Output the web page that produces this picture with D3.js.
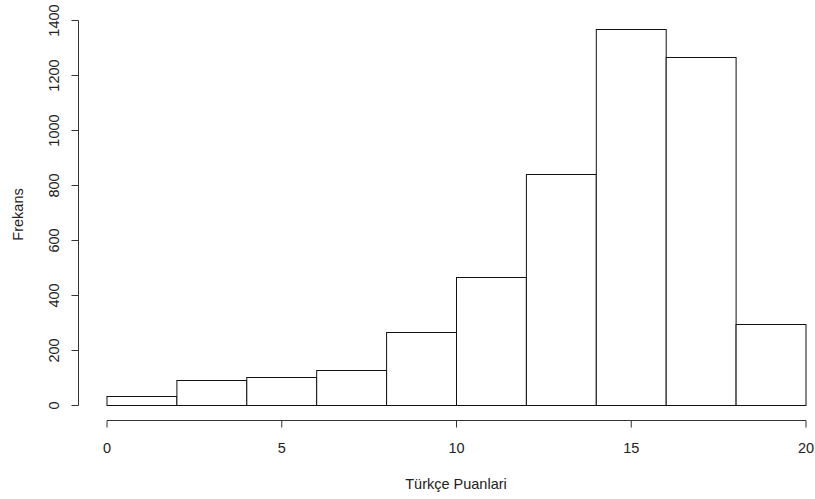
<!DOCTYPE html>
<html>
<head>
<meta charset="utf-8">
<script src="https://cdn.jsdelivr.net/npm/d3@7"></script>
<style>
  body { margin: 0; background: #fff; }
  svg text { font-family: "Liberation Sans", Arial, sans-serif; fill: #222; font-size: 14.5px; }
</style>
</head>
<body>
<div id="chart"></div>
<script>
// histogram bins (lower edge) and counts
var binStarts = [0, 2, 4, 6, 8, 10, 12, 14, 16, 18];
var binWidth = 2;
var counts = [34, 92, 103, 127, 264, 466, 840, 1366, 1264, 296];
var xTicks = [0, 5, 10, 15, 20];
var yTicks = [0, 200, 400, 600, 800, 1000, 1200, 1400];

var W = 815, H = 499;
var svg = d3.select("#chart").append("svg")
    .attr("width", W).attr("height", H);

var x = d3.scaleLinear().domain([0, 20]).range([106.5, 805.5]);
var y = d3.scaleLinear().domain([0, 1400]).range([405, 20]);

var data = binStarts.map(function(s, i){ return {x0: s, x1: s + binWidth, n: counts[i]}; });

svg.append("g").selectAll("rect")
    .data(data).enter().append("rect")
      .attr("x", d => x(d.x0) + 0.5)
      .attr("y", d => Math.round(y(d.n)) + 0.5)
      .attr("width", d => x(d.x1) - x(d.x0))
      .attr("height", d => y(0) - Math.round(y(d.n)))
      .attr("fill", "white")
      .attr("stroke", "#111")
      .attr("stroke-width", 1);

// x axis, R style: detached below the plot
var xa = svg.append("g").attr("transform", "translate(0.5,420.5)");
xa.append("line")
    .attr("x1", x(0)).attr("x2", x(20))
    .attr("stroke", "#333");
xa.selectAll(".tk").data(xTicks).enter().append("line")
    .attr("x1", d => x(d)).attr("x2", d => x(d))
    .attr("y1", 0).attr("y2", 7)
    .attr("stroke", "#333");
xa.selectAll("text").data(xTicks).enter().append("text")
    .attr("x", d => x(d)).attr("y", 32.5)
    .attr("text-anchor", "middle")
    .text(d => d);

// y axis
var ya = svg.append("g").attr("transform", "translate(78.5,0.5)");
ya.append("line")
    .attr("y1", y(0)).attr("y2", y(1400))
    .attr("stroke", "#333");
ya.selectAll(".tk").data(yTicks).enter().append("line")
    .attr("y1", d => y(d)).attr("y2", d => y(d))
    .attr("x1", 0).attr("x2", -7)
    .attr("stroke", "#333");
ya.selectAll("text").data(yTicks).enter().append("text")
    .attr("transform", d => "translate(-20," + y(d) + ") rotate(-90)")
    .attr("text-anchor", "middle")
    .text(d => d);

// axis titles
svg.append("text")
    .attr("x", x(10)).attr("y", 489)
    .attr("text-anchor", "middle")
    .text("Türkçe Puanlari");
svg.append("text")
    .attr("transform", "translate(23,214.5) rotate(-90)")
    .attr("text-anchor", "middle")
    .text("Frekans");
</script>
</body>
</html>
